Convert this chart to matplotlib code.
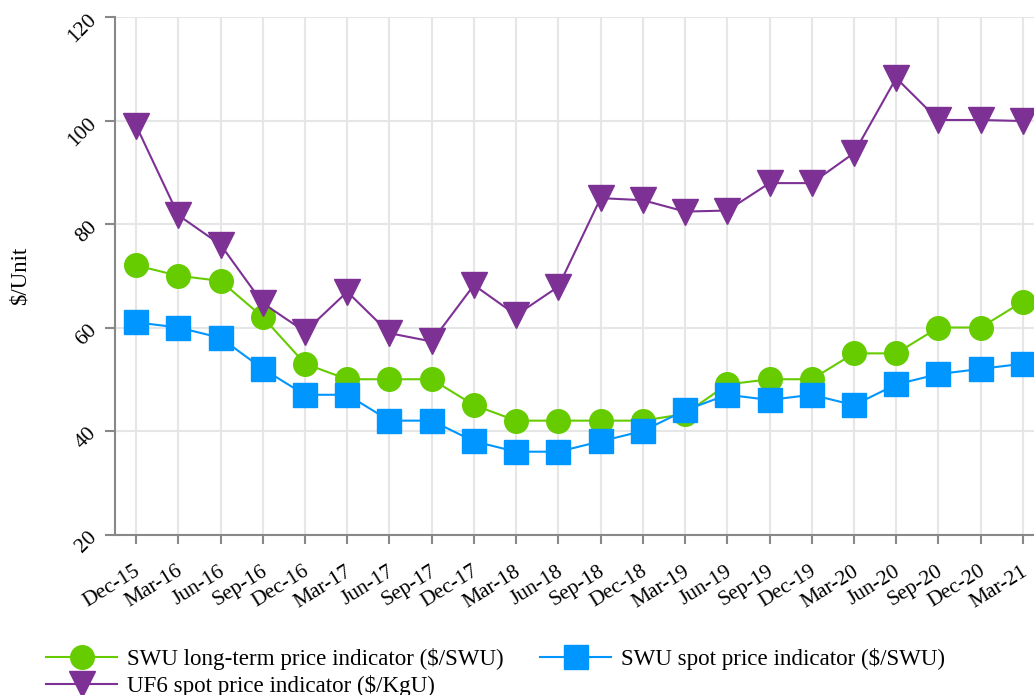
import matplotlib
matplotlib.use("Agg")
import matplotlib.pyplot as plt
from matplotlib.transforms import ScaledTranslation

# ---- data ----
dates = ["Dec-15", "Mar-16", "Jun-16", "Sep-16", "Dec-16", "Mar-17", "Jun-17", "Sep-17",
         "Dec-17", "Mar-18", "Jun-18", "Sep-18", "Dec-18", "Mar-19", "Jun-19", "Sep-19",
         "Dec-19", "Mar-20", "Jun-20", "Sep-20", "Dec-20", "Mar-21"]
swu_long_term = [72, 70, 69, 62, 53, 50, 50, 50, 45, 42, 42, 42, 42, 43.3, 49, 50, 50, 55, 55, 60, 60, 65]
swu_spot = [61, 60, 58, 52, 47, 47, 42, 42, 38, 36, 36, 38, 40, 44, 47, 46, 47, 45, 49, 51, 52, 53]
uf6_spot = [99, 81.7, 76, 64.7, 59.2, 66.9, 58.9, 57.3, 68.2, 62.4, 67.9, 85, 84.6, 82.4, 82.6,
            87.9, 87.9, 93.7, 108.2, 100.1, 100.1, 99.9]
y_ticks = [20, 40, 60, 80, 100, 120]

labels = {
    "lt": "SWU long-term price indicator ($/SWU)",
    "spot": "SWU spot price indicator ($/SWU)",
    "uf6": "UF6 spot price indicator ($/KgU)",
}

plt.rcParams['font.family'] = ['Liberation Serif', 'DejaVu Serif']

W, H = 1034, 695
fig = plt.figure(figsize=(W / 100, H / 100), dpi=100)
left_px, right_px, top_px, bottom_px = 115, 1044, 17, 534.5
ax = fig.add_axes([left_px / W, (H - bottom_px) / H, (right_px - left_px) / W, (bottom_px - top_px) / H])

x = list(range(len(dates)))
green = "#66cc00"
blue = "#0096ff"
purple = "#7d3195"

l1, = ax.plot(x, swu_long_term, color=green, lw=1.5, marker='o', ms=17, label=labels["lt"], zorder=3)
l2, = ax.plot(x, uf6_spot, color=purple, lw=1.5, marker='v', ms=19, label=labels["uf6"], zorder=3)
l3, = ax.plot(x, swu_spot, color=blue, lw=1.5, marker='s', ms=17, label=labels["spot"], zorder=4)

ax.set_xlim(-0.5, len(dates) - 0.5)
ax.set_ylim(20, 120)
ax.set_yticks(y_ticks)
ax.set_xticks(x)
ax.set_xticklabels(dates, rotation=32, ha='right', va='center', rotation_mode='anchor', fontsize=15.5)
ax.set_yticklabels([str(v) for v in y_ticks], rotation=45, ha='right', va='center',
                   rotation_mode='anchor', fontsize=15.5)
ax.tick_params(axis='x', length=6.5, width=1.5, color='#888888', pad=19)
ax.tick_params(axis='y', length=7.2, width=1.5, color='#888888', pad=8)

shift = ScaledTranslation(3 / 100, 0, fig.dpi_scale_trans)
for lbl in ax.get_xticklabels():
    lbl.set_transform(lbl.get_transform() + shift)

ax.grid(True, color='#e6e6e6', lw=1.5, zorder=0)
ax.set_axisbelow(True)
for s in ['top', 'right']:
    ax.spines[s].set_visible(False)
for s in ['left', 'bottom']:
    ax.spines[s].set_color('#888888')
    ax.spines[s].set_linewidth(1.5)

ax.set_ylabel("$/Unit", fontsize=16.5)
ax.yaxis.set_label_coords((31 - left_px) / (right_px - left_px), 0.5)

fig.legend(handles=[l1, l2, l3], ncol=2, loc='upper left', bbox_to_anchor=(46 / W, 1 - 648 / H),
           frameon=False, fontsize=16.6, handlelength=3.08, handletextpad=0.42, columnspacing=1.6,
           labelspacing=0.2, borderpad=0, borderaxespad=0)

fig.savefig("out.png", dpi=100)
